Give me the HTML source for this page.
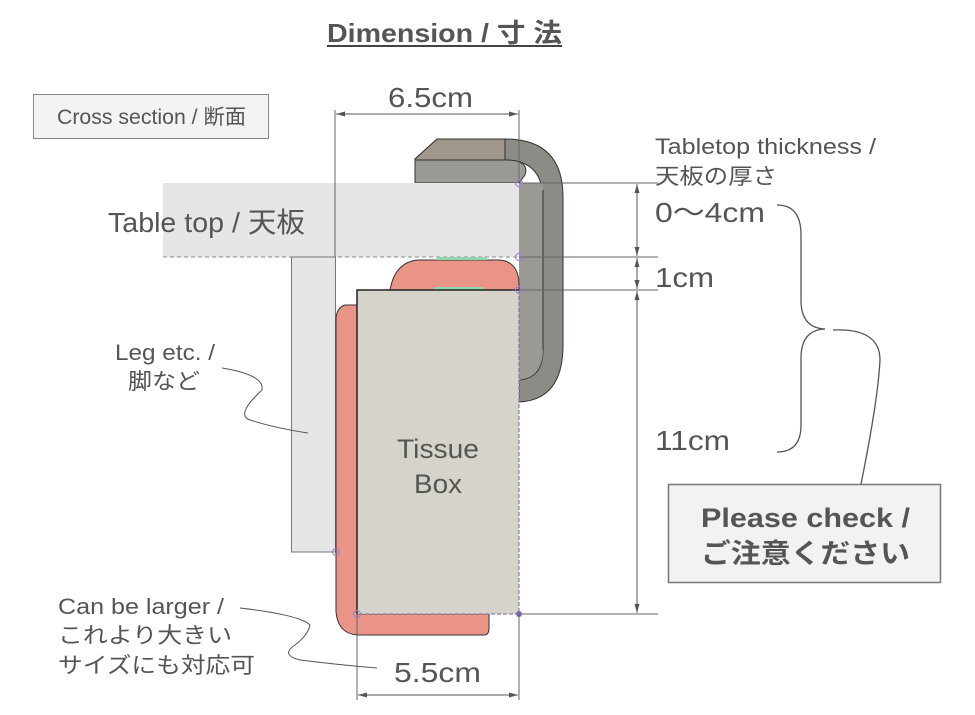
<!DOCTYPE html>
<html><head><meta charset="utf-8"><style>
html,body{margin:0;padding:0;background:#fff;}
svg{display:block;}
text{font-family:"Liberation Sans","Noto Sans CJK JP",sans-serif;fill:#555;}
</style></head><body>
<svg width="975" height="715" viewBox="0 0 975 715" xmlns="http://www.w3.org/2000/svg">
<defs>
<marker id="ar" markerWidth="10" markerHeight="8" refX="9" refY="4" orient="auto-start-reverse" markerUnits="userSpaceOnUse">
<path d="M0,1.5 L9,4 L0,6.5 Z" fill="#555"/></marker>
</defs>
<!-- title -->
<text x="327" y="42" font-size="26" font-weight="bold" textLength="235" lengthAdjust="spacingAndGlyphs" fill="#444">Dimension / 寸 法</text>
<line x1="327" y1="46" x2="562" y2="46" stroke="#444" stroke-width="2"/>
<!-- cross section box -->
<rect x="33.5" y="94.5" width="235" height="44" fill="#f3f3f3" stroke="#888"/>
<text x="57" y="124" font-size="21" textLength="189" lengthAdjust="spacingAndGlyphs">Cross section / 断面</text>

<!-- gray clip -->
<path d="M415,159 L437,139 L505,139 Q563,139 563,197 L563,345 Q563,400 519,402 L519,380 Q543,378 543,350 L543,200 Q543,160 505,160 L415,160 Z" fill="#8c8b85" stroke="#333" stroke-width="1"/>
<path d="M415,159 L437,139 L505,139 L505,160 L415,160 Z" fill="#9e978a" stroke="#333"/>
<path d="M415,160 L505,160 Q530,160 525,175 L519,183 L415,183 Z" fill="#9a9994" stroke="#333"/>
<path d="M519,183 L543,183 L543,350 Q543,376 519,380 Z" fill="#9a9994" stroke="none"/>
<line x1="543" y1="190" x2="543" y2="350" stroke="#333"/>

<!-- table top -->
<rect x="163" y="183" width="356" height="74" fill="#e6e6e6"/>
<line x1="163" y1="257" x2="519" y2="257" stroke="#888" stroke-dasharray="4,3"/>
<text x="108" y="232" font-size="28" textLength="197" lengthAdjust="spacingAndGlyphs">Table top / 天板</text>
<!-- leg -->
<rect x="291.5" y="257" width="44" height="295" fill="#e6e6e6" stroke="#777"/>

<!-- salmon pieces -->
<path d="M390,290 Q395,262 418,260 L500,260 Q519,262 519,285 L519,290 Z" fill="#e99486" stroke="#333"/>
<rect x="437" y="257" width="50" height="3" fill="#8fd6b0"/>
<rect x="434" y="287" width="50" height="3" fill="#8fd6b0"/>
<path d="M357,305 L345,305 Q336,308 336,320 L336,612 Q338,634 358,635 L484,635 Q489,635 489,628 L489,614 L357,614 Z" fill="#e99486" stroke="#333"/>

<!-- tissue box -->
<rect x="357" y="290" width="162" height="324" fill="#d5d3ca"/>
<path d="M357,614 L357,290 L519,290" fill="none" stroke="#222" stroke-width="1.5"/>
<path d="M519,290 L519,614 L357,614" fill="none" stroke="#7a67a8" stroke-dasharray="4,2"/>
<text x="397" y="458" font-size="27" textLength="82" lengthAdjust="spacingAndGlyphs">Tissue</text>
<text x="414" y="493" font-size="27" textLength="48" lengthAdjust="spacingAndGlyphs">Box</text>

<!-- 6.5cm dimension -->
<line x1="335" y1="110" x2="335" y2="257" stroke="#666"/>
<line x1="519" y1="110" x2="519" y2="183" stroke="#666"/>
<line x1="336" y1="114" x2="518" y2="114" stroke="#555" marker-start="url(#ar)" marker-end="url(#ar)"/>
<text x="388" y="107" font-size="28" textLength="85" lengthAdjust="spacingAndGlyphs">6.5cm</text>

<!-- right dimension lines -->
<line x1="519" y1="183" x2="658" y2="183" stroke="#666"/>
<line x1="519" y1="257" x2="658" y2="257" stroke="#666"/>
<line x1="519" y1="290" x2="658" y2="290" stroke="#666"/>
<line x1="519" y1="614" x2="658" y2="614" stroke="#666"/>
<line x1="637" y1="184" x2="637" y2="256" stroke="#555" marker-start="url(#ar)" marker-end="url(#ar)"/>
<line x1="637" y1="258" x2="637" y2="289" stroke="#555" marker-start="url(#ar)" marker-end="url(#ar)"/>
<line x1="637" y1="291" x2="637" y2="613" stroke="#555" marker-start="url(#ar)" marker-end="url(#ar)"/>
<circle cx="519" cy="183" r="3.5" fill="none" stroke="#9a7fd6"/>
<circle cx="519" cy="257" r="3.5" fill="none" stroke="#9a7fd6"/>
<circle cx="519" cy="290" r="3.5" fill="none" stroke="#9a7fd6"/>
<circle cx="519" cy="614" r="3" fill="#7a67a8"/>
<circle cx="357" cy="614" r="3.5" fill="none" stroke="#9a7fd6"/>
<circle cx="336" cy="552" r="3.5" fill="none" stroke="#9a7fd6"/>

<text x="655" y="154" font-size="22" textLength="221" lengthAdjust="spacingAndGlyphs">Tabletop thickness /</text>
<text x="655" y="184" font-size="22" textLength="122" lengthAdjust="spacingAndGlyphs">天板の厚さ</text>
<text x="655" y="222" font-size="28" textLength="110" lengthAdjust="spacingAndGlyphs">0〜4cm</text>
<text x="655" y="287" font-size="28" textLength="59" lengthAdjust="spacingAndGlyphs">1cm</text>
<text x="655" y="450" font-size="28" textLength="75" lengthAdjust="spacingAndGlyphs">11cm</text>

<!-- brace -->
<path d="M777,205 Q801,205 801,235 L801,300 Q801,328 825,329 Q801,330 801,358 L801,425 Q801,452 777,452" fill="none" stroke="#555" stroke-width="1.3"/>
<path d="M833,330 Q880,328 880,360 Q878,400 861,484" fill="none" stroke="#555" stroke-width="1.3"/>
<rect x="668.5" y="484.5" width="272" height="98" fill="#f2f2f2" stroke="#777" stroke-width="1.5"/>
<text x="701" y="527" font-size="27" font-weight="bold" textLength="209" lengthAdjust="spacingAndGlyphs">Please check /</text>
<text x="701" y="563" font-size="27" font-weight="bold" textLength="209" lengthAdjust="spacingAndGlyphs">ご注意ください</text>

<!-- leg label -->
<text x="115" y="360" font-size="22" textLength="100" lengthAdjust="spacingAndGlyphs">Leg etc. /</text>
<text x="128" y="389" font-size="22" textLength="72" lengthAdjust="spacingAndGlyphs">脚など</text>
<path d="M222,368 Q265,375 262,390 Q235,415 250,420 Q275,428 308,433" fill="none" stroke="#555"/>

<!-- can be larger -->
<text x="58" y="614" font-size="22" textLength="166" lengthAdjust="spacingAndGlyphs">Can be larger /</text>
<text x="58" y="643" font-size="22" textLength="174" lengthAdjust="spacingAndGlyphs">これより大きい</text>
<text x="58" y="673" font-size="22" textLength="197" lengthAdjust="spacingAndGlyphs">サイズにも対応可</text>
<path d="M240,608 Q300,615 310,625 Q308,635 295,645 Q280,655 300,660 Q340,665 377,668" fill="none" stroke="#555"/>

<!-- 5.5cm -->
<line x1="357" y1="614" x2="357" y2="700" stroke="#666"/>
<line x1="519" y1="614" x2="519" y2="700" stroke="#666"/>
<line x1="358" y1="695" x2="518" y2="695" stroke="#555" marker-start="url(#ar)" marker-end="url(#ar)"/>
<text x="394" y="682" font-size="28" textLength="87" lengthAdjust="spacingAndGlyphs">5.5cm</text>
</svg>
</body></html>
